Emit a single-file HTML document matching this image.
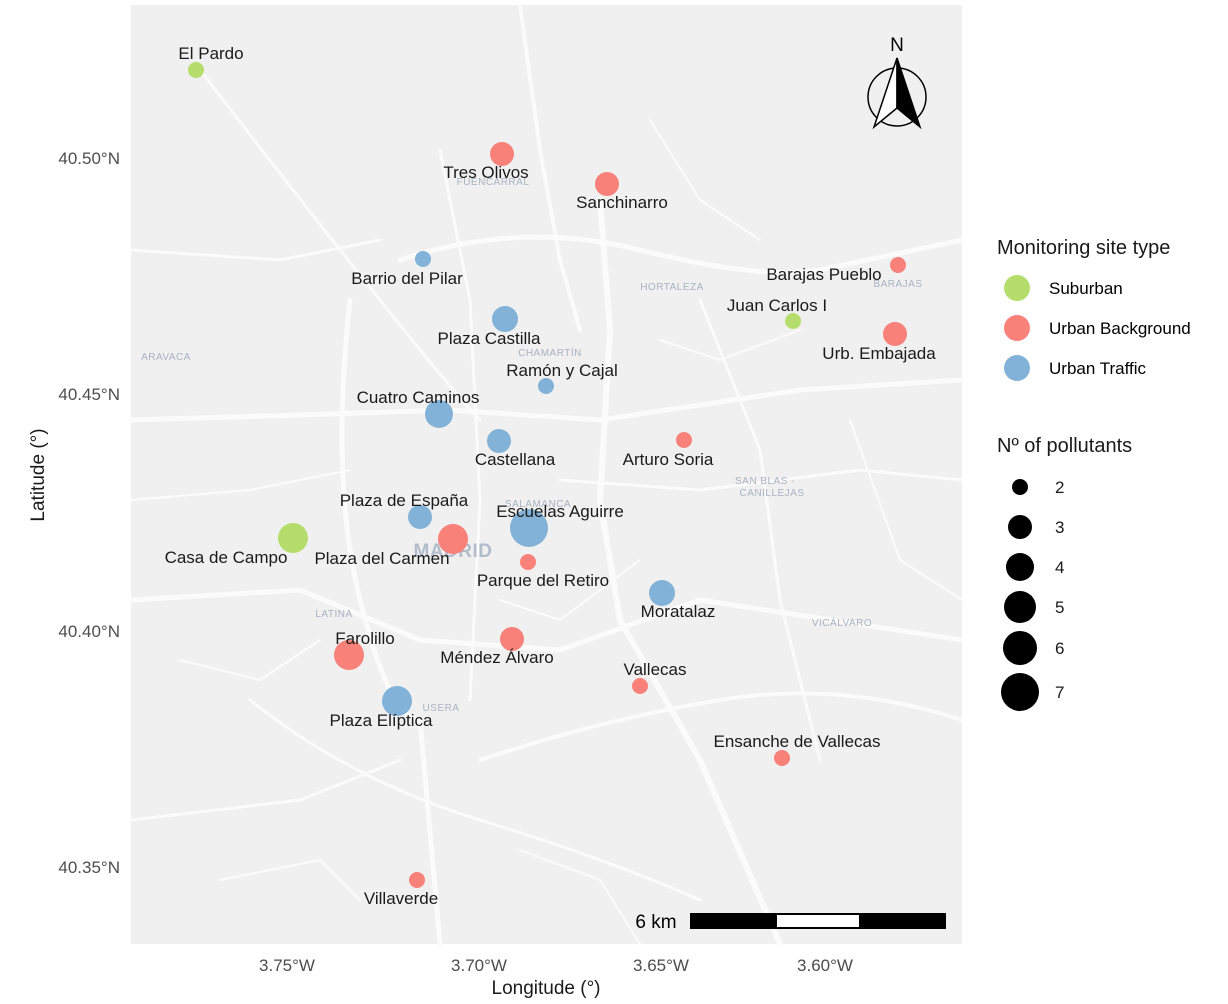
<!DOCTYPE html>
<html><head><meta charset="utf-8"><style>
body{margin:0;background:#fff;}
svg{display:block;font-family:"Liberation Sans",sans-serif;}
</style></head><body>
<svg width="1228" height="1004" viewBox="0 0 1228 1004">
<rect x="131" y="5" width="831" height="939" fill="#f0f0f0"/>
<g stroke="#fbfbfb" fill="none" stroke-linecap="round">
<path d="M200 70 Q300 200 380 300 T480 420" stroke-width="3"/>
<path d="M520 5 L540 150 L560 260 L580 330" stroke-width="4"/>
<path d="M600 200 L610 330 L600 500 L620 620 L700 760 L780 944" stroke-width="6"/>
<path d="M131 420 L300 415 L450 410 L600 420 L800 390 L962 380" stroke-width="5"/>
<path d="M131 600 L300 590 L420 640 L560 650 L700 600 L962 640" stroke-width="5"/>
<path d="M400 260 Q520 220 640 250 T820 270 L962 240" stroke-width="5"/>
<path d="M350 300 Q330 480 360 600 T420 720 L440 944" stroke-width="5"/>
<path d="M480 760 Q600 720 720 700 T962 720" stroke-width="4"/>
<path d="M250 700 Q350 780 480 820 T700 900" stroke-width="3"/>
<path d="M700 300 L760 450 L780 600 L820 760" stroke-width="3"/>
<path d="M131 820 L300 800 L400 760" stroke-width="3"/>
<path d="M440 150 L470 300 L480 500 L470 700" stroke-width="3"/>
<path d="M560 480 L700 490 L860 470 L962 480" stroke-width="3"/>
<path d="M131 250 L280 260 L380 240" stroke-width="3"/>
<path d="M131 500 L250 490 L350 470" stroke-width="2"/>
<path d="M650 120 L700 200 L760 240" stroke-width="2"/>
<path d="M850 420 L900 560 L962 600" stroke-width="2"/>
<path d="M180 660 L260 680 L320 640" stroke-width="2"/>
<path d="M520 850 L600 880 L640 944" stroke-width="2"/>
<path d="M220 880 L320 860 L360 900" stroke-width="2"/>
<path d="M660 340 L720 360 L800 330" stroke-width="2"/>
<path d="M500 600 L560 620 L640 560" stroke-width="2"/>
</g>
<g font-size="10" fill="#a8b2c0" text-anchor="middle" letter-spacing="0.5">
<text x="166" y="360">ARAVACA</text><text x="672" y="290">HORTALEZA</text><text x="550" y="356">CHAMARTÍN</text>
<text x="765" y="484">SAN BLAS -</text><text x="772" y="496">CANILLEJAS</text><text x="538" y="507">SALAMANCA</text>
<text x="334" y="617">LATINA</text><text x="842" y="626">VICÁLVARO</text><text x="441" y="711">USERA</text>
<text x="898" y="287">BARAJAS</text><text x="493" y="185">FUENCARRAL</text>
<text x="453" y="557" font-size="19" font-weight="bold" fill="#b3bccb">MADRID</text>
</g>
<g>
<circle cx="196" cy="70" r="8" fill="#b5dd6b"/>
<circle cx="793" cy="321" r="8" fill="#b5dd6b"/>
<circle cx="293" cy="538" r="15" fill="#b5dd6b"/>
<circle cx="502" cy="154" r="12" fill="#f8817a"/>
<circle cx="607" cy="184" r="12" fill="#f8817a"/>
<circle cx="898" cy="265" r="8" fill="#f8817a"/>
<circle cx="895" cy="334" r="12" fill="#f8817a"/>
<circle cx="684" cy="440" r="8" fill="#f8817a"/>
<circle cx="453" cy="539" r="15" fill="#f8817a"/>
<circle cx="528" cy="562" r="8" fill="#f8817a"/>
<circle cx="349" cy="655" r="15" fill="#f8817a"/>
<circle cx="512" cy="639" r="12" fill="#f8817a"/>
<circle cx="640" cy="686" r="8" fill="#f8817a"/>
<circle cx="782" cy="758" r="8" fill="#f8817a"/>
<circle cx="417" cy="880" r="8" fill="#f8817a"/>
<circle cx="423" cy="259" r="8" fill="#82b2d7"/>
<circle cx="505" cy="319" r="13" fill="#82b2d7"/>
<circle cx="546" cy="386" r="8" fill="#82b2d7"/>
<circle cx="439" cy="414" r="14" fill="#82b2d7"/>
<circle cx="499" cy="441" r="12" fill="#82b2d7"/>
<circle cx="420" cy="517" r="12" fill="#82b2d7"/>
<circle cx="529" cy="528" r="19" fill="#82b2d7"/>
<circle cx="662" cy="593" r="13" fill="#82b2d7"/>
<circle cx="397" cy="701" r="15" fill="#82b2d7"/>
</g>
<g font-size="17" fill="#1a1a1a" text-anchor="middle">
<text x="211" y="59">El Pardo</text><text x="486" y="178">Tres Olivos</text><text x="622" y="208">Sanchinarro</text>
<text x="407" y="284">Barrio del Pilar</text><text x="824" y="280">Barajas Pueblo</text><text x="777" y="311">Juan Carlos I</text>
<text x="879" y="359">Urb. Embajada</text><text x="489" y="344">Plaza Castilla</text><text x="562" y="376">Ramón y Cajal</text>
<text x="418" y="403">Cuatro Caminos</text><text x="515" y="465">Castellana</text><text x="668" y="465">Arturo Soria</text>
<text x="404" y="506">Plaza de España</text><text x="560" y="517">Escuelas Aguirre</text><text x="226" y="563">Casa de Campo</text>
<text x="382" y="564">Plaza del Carmen</text><text x="543" y="586">Parque del Retiro</text><text x="678" y="617">Moratalaz</text>
<text x="365" y="644">Farolillo</text><text x="497" y="663">Méndez Álvaro</text><text x="655" y="675">Vallecas</text>
<text x="381" y="726">Plaza Elíptica</text><text x="797" y="747">Ensanche de Vallecas</text><text x="401" y="904">Villaverde</text>
</g>
<circle cx="897" cy="97" r="29" fill="none" stroke="#000" stroke-width="1.5"/>
<path d="M897 58 L874 127 L897 108 Z" fill="#fff" stroke="#000" stroke-width="1.5"/>
<path d="M897 58 L920 127 L897 108 Z" fill="#000" stroke="#000" stroke-width="1.5"/>
<text x="897" y="51" font-size="19" text-anchor="middle">N</text>
<text x="656" y="928" font-size="19" text-anchor="middle">6 km</text>
<rect x="690" y="913" width="256" height="16" fill="#000"/>
<rect x="777" y="915" width="82" height="12" fill="#fff"/>
<g font-size="17" fill="#4d4d4d">
<g text-anchor="middle"><text x="287" y="971">3.75°W</text><text x="479" y="971">3.70°W</text><text x="661" y="971">3.65°W</text><text x="825" y="971">3.60°W</text></g>
<g text-anchor="end"><text x="120" y="164">40.50°N</text><text x="120" y="400">40.45°N</text><text x="120" y="637">40.40°N</text><text x="120" y="873">40.35°N</text></g>
</g>
<text x="546" y="994" font-size="19" text-anchor="middle" fill="#1a1a1a">Longitude (°)</text>
<text transform="translate(44 475) rotate(-90)" font-size="19" text-anchor="middle" fill="#1a1a1a">Latitude (°)</text>
<text x="997" y="254" font-size="20" fill="#1a1a1a">Monitoring site type</text>
<circle cx="1017" cy="288" r="13" fill="#b5dd6b"/><text x="1049" y="294" font-size="17">Suburban</text>
<circle cx="1017" cy="328" r="13" fill="#f8817a"/><text x="1049" y="334" font-size="17">Urban Background</text>
<circle cx="1017" cy="368" r="13" fill="#82b2d7"/><text x="1049" y="374" font-size="17">Urban Traffic</text>
<text x="997" y="452" font-size="20" fill="#1a1a1a">Nº of pollutants</text>
<g fill="#000"><circle cx="1020" cy="487" r="8"/><circle cx="1020" cy="527" r="12"/><circle cx="1020" cy="567" r="14"/><circle cx="1020" cy="607" r="16"/><circle cx="1020" cy="648" r="17"/><circle cx="1020" cy="692" r="19"/></g>
<g font-size="17" fill="#1a1a1a"><text x="1055" y="493">2</text><text x="1055" y="533">3</text><text x="1055" y="573">4</text><text x="1055" y="613">5</text><text x="1055" y="654">6</text><text x="1055" y="698">7</text></g>
</svg>
</body></html>
